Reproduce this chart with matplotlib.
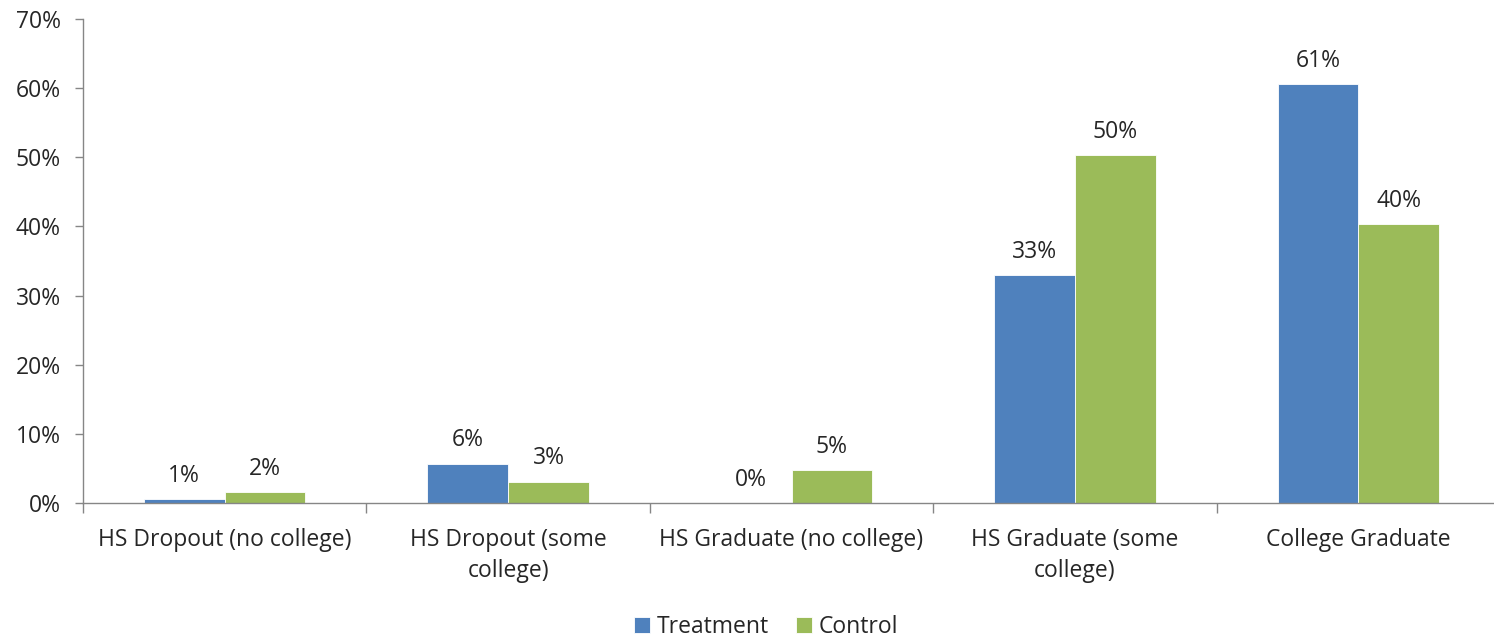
import matplotlib
matplotlib.use("Agg")
import matplotlib.pyplot as plt
import numpy as np
from matplotlib.ticker import FuncFormatter, FixedLocator

categories = ["HS Dropout (no college)", "HS Dropout (some\ncollege)",
              "HS Graduate (no college)", "HS Graduate (some\ncollege)",
              "College Graduate"]
treatment = [0.6, 5.7, 0.0, 33.0, 60.6]
control = [1.6, 3.1, 4.8, 50.3, 40.3]
series_names = ["Treatment", "Control"]
y_ticks = [0, 10, 20, 30, 40, 50, 60, 70]

blue = "#4F81BD"
green = "#9BBB59"
axis_grey = "#868686"
text_col = "#262626"
fs = 16.5

plt.rcParams["font.family"] = ["Open Sans", "DejaVu Sans"]

fig = plt.figure(figsize=(14.94, 6.42), dpi=100)
ax = fig.add_axes([83 / 1494, 1 - 503 / 642, (1500 - 83) / 1494, (503 - 19) / 642])

x = np.arange(len(categories))
w = 0.285
b1 = ax.bar(x - w / 2, treatment, w, color=blue, edgecolor="white", linewidth=0.6,
            label=series_names[0])
b2 = ax.bar(x + w / 2, control, w, color=green, edgecolor="white", linewidth=0.6,
            label=series_names[1])

for bars, vals in ((b1, treatment), (b2, control)):
    for rect, v in zip(bars, vals):
        ax.annotate(f"{v:.0f}%", (rect.get_x() + rect.get_width() / 2, v),
                    xytext=(0, 8), textcoords="offset points",
                    ha="center", va="bottom", fontsize=fs, color=text_col)

ax.set_xlim(-0.5, len(categories) - 0.5)
ax.set_ylim(0, 70)
ax.set_yticks(y_ticks)
ax.yaxis.set_major_formatter(FuncFormatter(lambda v, p: f"{v:.0f}%"))

# category labels without ticks; separator ticks between groups
ax.set_xticks(x)
ax.set_xticklabels(categories, fontsize=fs, color=text_col, linespacing=1.4)
ax.tick_params(axis="x", which="major", length=0, pad=18)
ax.xaxis.set_minor_locator(FixedLocator(np.arange(-0.5, len(categories), 1.0)))
ax.tick_params(axis="x", which="minor", length=7, color=axis_grey, width=1.0)
for t in ax.get_xticklabels():
    t.set_verticalalignment("top")

ax.tick_params(axis="y", length=6, color=axis_grey, width=1.0, labelsize=fs,
               labelcolor=text_col, pad=10)

for s in ("top", "right"):
    ax.spines[s].set_visible(False)
for s in ("left", "bottom"):
    ax.spines[s].set_color(axis_grey)
    ax.spines[s].set_linewidth(1.0)

leg = fig.legend(handles=[b1, b2], labels=series_names, loc="center",
                 bbox_to_anchor=(766 / 1494, 1 - 627 / 642), ncol=2, frameon=False,
                 fontsize=fs, handlelength=0.7, handleheight=0.7, handletextpad=0.3,
                 columnspacing=1.2)
for t in leg.get_texts():
    t.set_color(text_col)

fig.savefig("out.png", dpi=100)
